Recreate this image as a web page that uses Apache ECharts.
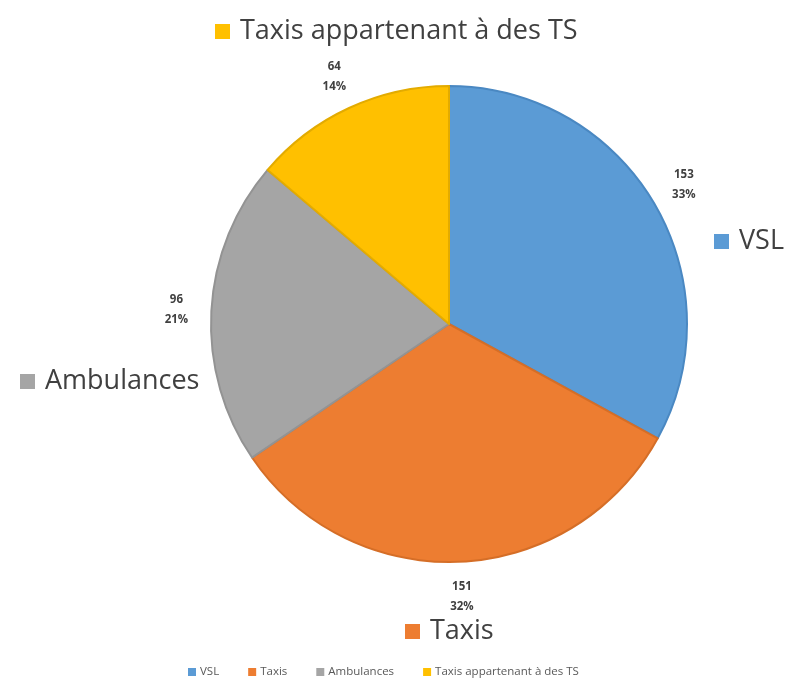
<!DOCTYPE html>
<html><head><meta charset="utf-8">
<script src="https://cdn.jsdelivr.net/npm/echarts@6/dist/echarts.min.js"></script>
<style>html,body{margin:0;padding:0;background:#fff}#c{width:791px;height:684px}</style>
</head><body><div id="c"></div>
<script>
const categories = ['VSL', 'Taxis', 'Ambulances', 'Taxis appartenant à des TS'];
const values = [153, 151, 96, 64];
const colors = ['#5B9BD5', '#ED7D31', '#A5A5A5', '#FFC000'];
const borders = ['#4A88C2', '#D56E27', '#939393', '#E3AB00'];

const FONT = 'Open Sans';
const data = categories.map((n, i) => ({
  name: n, value: values[i],
  itemStyle: { color: colors[i], borderColor: borders[i], borderWidth: 2 }
}));

function catLegend(name, pos) {
  return Object.assign({
    data: [name], icon: 'rect', itemWidth: 15, itemHeight: 15, itemGap: 0,
    selectedMode: false, padding: 0,
    itemStyle: { borderWidth: 0 },
    textStyle: { fontFamily: FONT, fontSize: 27, color: '#404040', padding: [0, 0, 0, 5] }
  }, pos);
}

const chart = echarts.init(document.getElementById('c'), null, { renderer: 'canvas' });
chart.setOption({
  animation: false,
  color: colors,
  legend: [
    {
      data: categories, bottom: 1, left: 183, icon: 'rect',
      itemWidth: 8, itemHeight: 8, itemGap: 29, selectedMode: false,
      itemStyle: { borderWidth: 0 },
      textStyle: { fontFamily: FONT, fontSize: 11.5, color: '#595959', padding: [0, 0, 0, -1] }
    },
    catLegend(categories[0], { left: 714, top: 228 }),
    catLegend(categories[1], { left: 405, top: 618 }),
    catLegend(categories[2], { left: 20, top: 368 }),
    catLegend(categories[3], { left: 215, top: 18 })
  ],
  series: [
    {
      type: 'pie', center: [449, 324], radius: 238, startAngle: 90,
      silent: true, data: data,
      label: { show: false }, labelLine: { show: false }
    },
    {
      type: 'pie', center: [449, 324], radius: [250, 290], startAngle: 90,
      silent: true, percentPrecision: 0,
      data: categories.map((n, i) => ({ name: n, value: values[i], itemStyle: { color: 'rgba(0,0,0,0)' } })),
      label: {
        show: true, position: 'inside',
        formatter: '{c}\n{d}%',
        fontFamily: FONT, fontSize: 11.5, fontWeight: 'bold', color: '#404040', lineHeight: 20
      },
      labelLine: { show: false }
    }
  ]
});
</script></body></html>
